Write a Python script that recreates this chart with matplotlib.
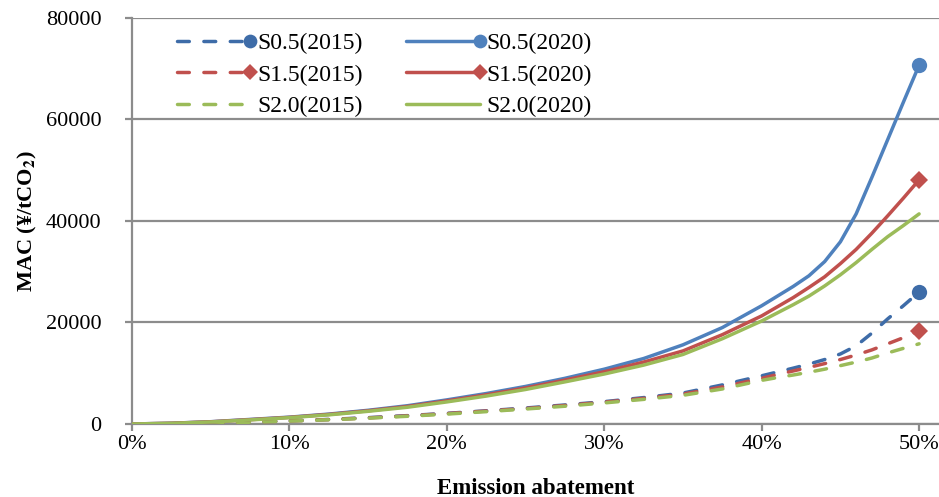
import numpy as np
import matplotlib
matplotlib.use("Agg")
import matplotlib.pyplot as plt
from matplotlib.lines import Line2D
from matplotlib.legend_handler import HandlerLine2D

plt.rcParams["font.family"] = ["Liberation Serif", "DejaVu Serif"]
plt.rcParams["mathtext.fontset"] = "stix"

# abatement share (fraction of emissions)
abatement = [0.0, 0.025, 0.05, 0.075, 0.10, 0.125, 0.15, 0.175, 0.20, 0.225,
             0.25, 0.275, 0.30, 0.325, 0.35, 0.375, 0.40, 0.41, 0.42, 0.43,
             0.44, 0.45, 0.46, 0.47, 0.48, 0.49, 0.50]

# marginal abatement cost, yuan per tonne CO2
s05_2015 = [0, 60, 180, 380, 620, 900, 1250, 1650, 2100, 2600,
            3150, 3750, 4400, 5200, 6100, 7700, 9500, 10250, 11000, 11800,
            12700, 13800, 15400, 17900, 20700, 23300, 26000]
s15_2015 = [0, 55, 170, 360, 600, 870, 1200, 1600, 2050, 2550,
            3050, 3650, 4300, 5050, 5900, 7300, 9000, 9750, 10450, 11150,
            11900, 12700, 13600, 14600, 15800, 17000, 18400]
s20_2015 = [0, 50, 160, 340, 570, 830, 1150, 1520, 1950, 2430,
            2950, 3500, 4150, 4850, 5650, 6900, 8600, 9150, 9650, 10200,
            10800, 11500, 12200, 13000, 14000, 14900, 15800]
s05_2020 = [0, 150, 450, 900, 1350, 1950, 2700, 3600, 4750, 6000,
            7400, 9000, 10800, 12900, 15600, 19000, 23300, 25200, 27100, 29200,
            32000, 35900, 41400, 48600, 56000, 63400, 70700]
s15_2020 = [0, 140, 430, 850, 1300, 1880, 2600, 3450, 4550, 5750,
            7100, 8650, 10300, 12200, 14400, 17600, 21300, 23100, 24900, 26900,
            29000, 31600, 34400, 37600, 41000, 44500, 48100]
s20_2020 = [0, 130, 400, 800, 1250, 1800, 2500, 3300, 4350, 5500,
            6800, 8300, 9850, 11600, 13700, 16800, 20300, 21900, 23500, 25200,
            27200, 29400, 31800, 34400, 36900, 39100, 41400]

x_ticks = [0.0, 0.1, 0.2, 0.3, 0.4, 0.5]
x_tick_labels = ["0%", "10%", "20%", "30%", "40%", "50%"]
y_ticks = [0, 20000, 40000, 60000, 80000]

BLUE, BLUE_D = "#4F81BD", "#3E6CA8"
RED, GREEN = "#C0504D", "#9BBB59"
GRID = "#8C8C8C"
DASH = (0, (3.4, 4.2))


class EndMarkerHandler(HandlerLine2D):
    """Legend handle: full-length line with the marker at its right end."""
    def create_artists(self, legend, orig_handle, xdescent, ydescent,
                       width, height, fontsize, trans):
        y = (height - ydescent) / 2
        line = Line2D([-xdescent, width - xdescent], [y, y])
        self.update_prop(line, orig_handle, legend)
        line.set_marker("None")
        line.set_markevery(None)
        tip = Line2D([width - xdescent], [y])
        self.update_prop(tip, orig_handle, legend)
        tip.set_linestyle("None")
        tip.set_markevery(None)
        tip.set_markersize(orig_handle.get_markersize() * 0.9)
        line.set_transform(trans)
        tip.set_transform(trans)
        return [line, tip]


fig = plt.figure(figsize=(9.39, 4.97), dpi=100)
ax = fig.add_axes([0.1406, 0.1469, 0.859, 0.8169])

series = [
    ("S0.5(2015)", s05_2015, BLUE_D, DASH, "o", 11),
    ("S1.5(2015)", s15_2015, RED, DASH, "D", 9.5),
    ("S2.0(2015)", s20_2015, GREEN, DASH, None, 0),
    ("S0.5(2020)", s05_2020, BLUE, "-", "o", 11),
    ("S1.5(2020)", s15_2020, RED, "-", "D", 9.5),
    ("S2.0(2020)", s20_2020, GREEN, "-", None, 0),
]
for label, ys, color, ls, marker, ms in series:
    ax.plot(abatement, ys, color=color, linestyle=ls, linewidth=2.5,
            marker=marker, markersize=ms, markevery=[len(ys) - 1],
            markeredgewidth=0, label=label, zorder=3,
            dash_capstyle="round", solid_capstyle="round",
            solid_joinstyle="round")

ax.set_xlim(0, 0.5124)
ax.set_ylim(0, 80000)
ax.set_xticks(x_ticks)
ax.set_xticklabels(x_tick_labels)
ax.set_yticks(y_ticks)
ax.grid(axis="y", color=GRID, linewidth=1.6, zorder=0)
ax.set_axisbelow(True)
for side in ("top", "right"):
    ax.spines[side].set_visible(False)
for side in ("left", "bottom"):
    ax.spines[side].set_color(GRID)
    ax.spines[side].set_linewidth(1.6)
ax.tick_params(axis="both", colors=GRID, labelcolor="black",
               labelsize=16, length=5, width=1.6)
ax.tick_params(axis="x", pad=3)
ax.tick_params(axis="y", pad=17)

ax.set_xlabel("Emission abatement", fontsize=16.5, fontweight="bold",
              labelpad=17)
ax.set_ylabel(r"MAC (¥/tCO$_{\mathbf{2}}$)", fontsize=16, fontweight="bold",
              labelpad=5)

ax.legend(ncol=2, loc="upper left", bbox_to_anchor=(0.044, 0.987),
          borderaxespad=0, borderpad=0.4, frameon=False, fontsize=17,
          handlelength=3.1, handletextpad=0.3, columnspacing=1.85,
          labelspacing=0.42,
          handler_map={Line2D: EndMarkerHandler()})

fig.savefig("out.png", dpi=100)
